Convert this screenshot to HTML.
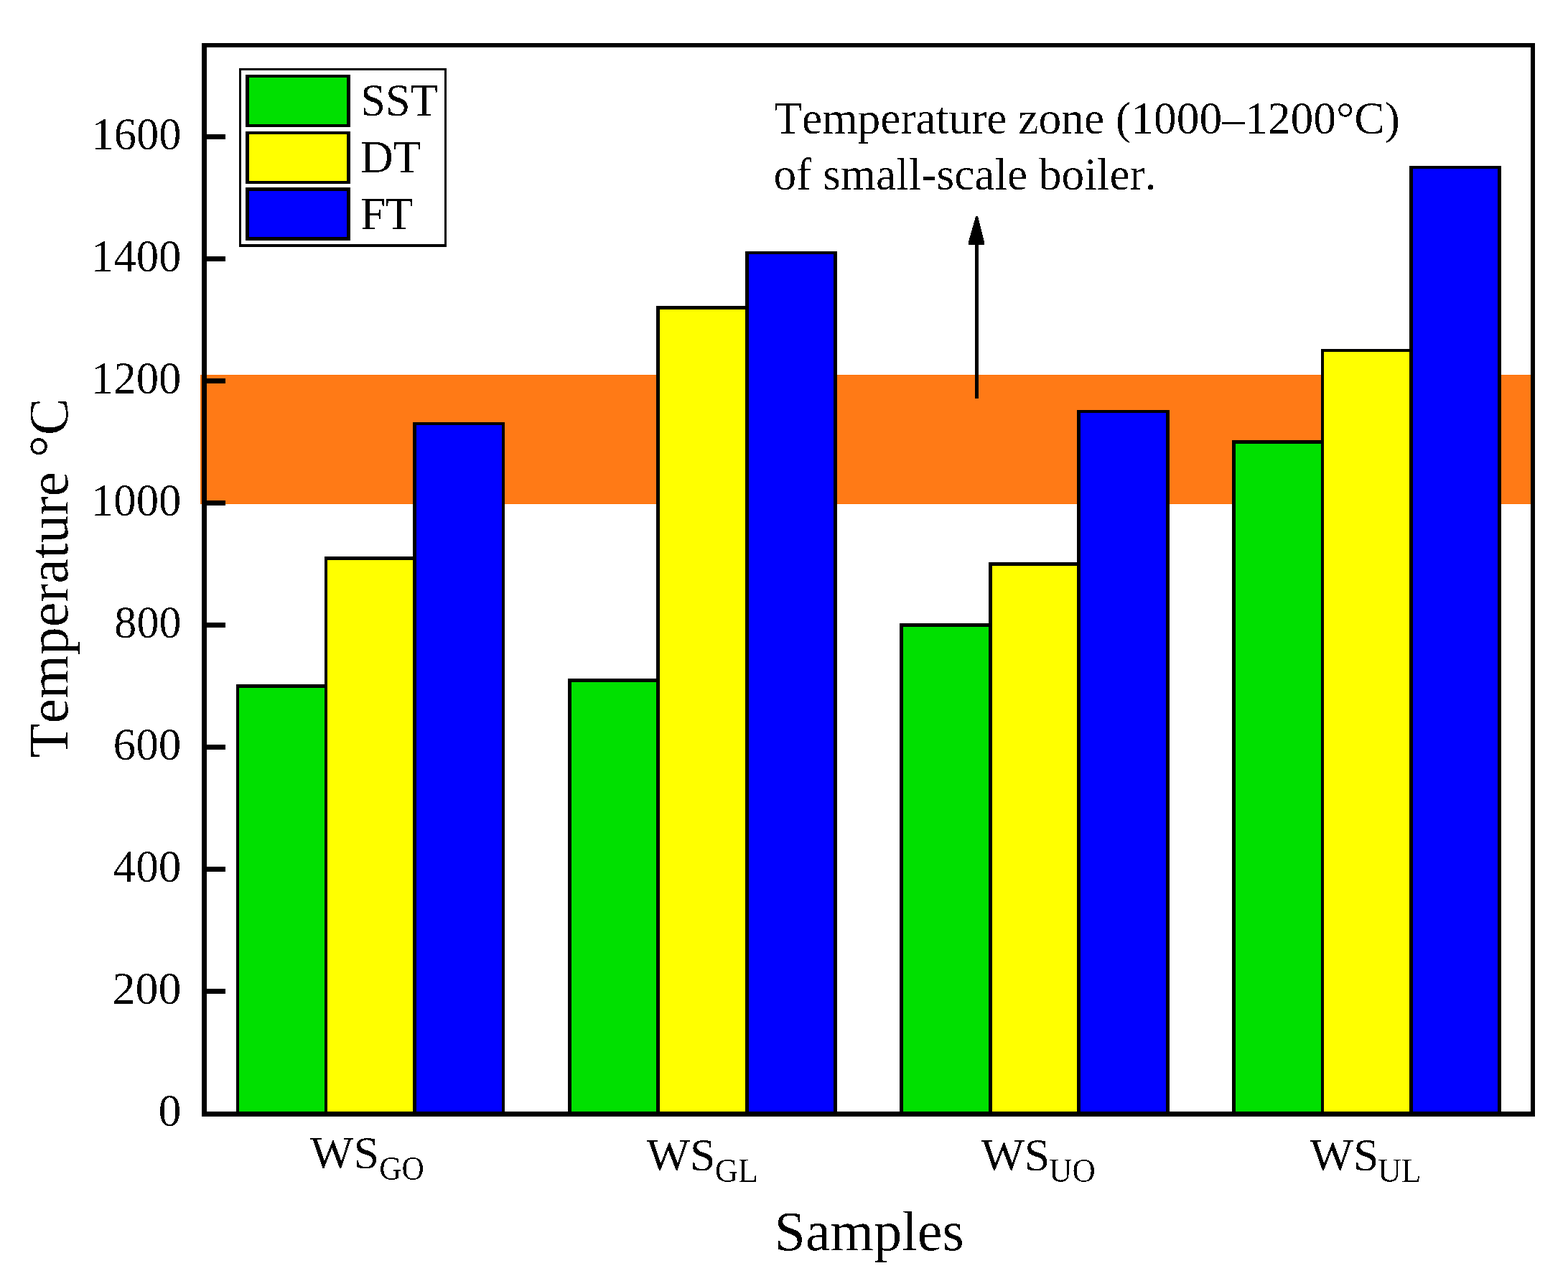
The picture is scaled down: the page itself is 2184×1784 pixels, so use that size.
<!DOCTYPE html>
<html><head><meta charset="utf-8"><style>
html,body{margin:0;padding:0;background:#fff;overflow:hidden;}
svg{display:block;}
text{font-kerning:none;font-feature-settings:"kern" 0;}
.t{font-family:"Liberation Serif","Times New Roman",serif;font-size:64px;fill:#000;}
.sub{font-size:46px;}
.tt{font-family:"Liberation Serif","Times New Roman",serif;font-size:78px;fill:#000;}
</style></head><body>
<svg width="2184" height="1784" viewBox="0 0 2184 1784" shape-rendering="crispEdges">
<defs><filter id="bin" filterUnits="userSpaceOnUse" x="0" y="0" width="2184" height="1784"><feComponentTransfer><feFuncA type="discrete" tableValues="0 0 0 1 1"/></feComponentTransfer></filter></defs>
<rect width="2184" height="1784" fill="#fff"/>
<rect x="279" y="522" width="1856" height="180" fill="#ff7a16"/>
<rect x="279" y="522" width="1856" height="1" fill="#ff7000"/>
<rect x="279" y="701" width="1856" height="1" fill="#ff7000"/>
<rect x="333" y="958" width="119" height="590" fill="#00e000"/>
<rect x="329" y="953" width="4" height="595" fill="#000"/>
<rect x="452" y="953" width="4" height="595" fill="#000"/>
<rect x="329" y="953" width="127" height="5" fill="#000"/>
<rect x="456" y="780" width="119" height="768" fill="#ffff00"/>
<rect x="452" y="775" width="4" height="773" fill="#000"/>
<rect x="575" y="775" width="5" height="773" fill="#000"/>
<rect x="452" y="775" width="128" height="5" fill="#000"/>
<rect x="580" y="592" width="119" height="956" fill="#0000ff"/>
<rect x="575" y="588" width="5" height="960" fill="#000"/>
<rect x="699" y="588" width="4" height="960" fill="#000"/>
<rect x="575" y="588" width="128" height="4" fill="#000"/>
<rect x="796" y="950" width="118" height="598" fill="#00e000"/>
<rect x="791" y="945" width="5" height="603" fill="#000"/>
<rect x="914" y="945" width="5" height="603" fill="#000"/>
<rect x="791" y="945" width="128" height="5" fill="#000"/>
<rect x="919" y="431" width="119" height="1117" fill="#ffff00"/>
<rect x="914" y="426" width="5" height="1122" fill="#000"/>
<rect x="1038" y="426" width="5" height="1122" fill="#000"/>
<rect x="914" y="426" width="129" height="5" fill="#000"/>
<rect x="1043" y="354" width="118" height="1194" fill="#0000ff"/>
<rect x="1038" y="350" width="5" height="1198" fill="#000"/>
<rect x="1161" y="350" width="5" height="1198" fill="#000"/>
<rect x="1038" y="350" width="128" height="4" fill="#000"/>
<rect x="1258" y="873" width="119" height="675" fill="#00e000"/>
<rect x="1253" y="868" width="5" height="680" fill="#000"/>
<rect x="1377" y="868" width="5" height="680" fill="#000"/>
<rect x="1253" y="868" width="129" height="5" fill="#000"/>
<rect x="1382" y="788" width="118" height="760" fill="#ffff00"/>
<rect x="1377" y="783" width="5" height="765" fill="#000"/>
<rect x="1500" y="783" width="5" height="765" fill="#000"/>
<rect x="1377" y="783" width="128" height="5" fill="#000"/>
<rect x="1505" y="575" width="119" height="973" fill="#0000ff"/>
<rect x="1500" y="571" width="5" height="977" fill="#000"/>
<rect x="1624" y="571" width="5" height="977" fill="#000"/>
<rect x="1500" y="571" width="129" height="4" fill="#000"/>
<rect x="1721" y="618" width="119" height="930" fill="#00e000"/>
<rect x="1716" y="613" width="5" height="935" fill="#000"/>
<rect x="1840" y="613" width="4" height="935" fill="#000"/>
<rect x="1716" y="613" width="128" height="5" fill="#000"/>
<rect x="1844" y="490" width="119" height="1058" fill="#ffff00"/>
<rect x="1840" y="486" width="4" height="1062" fill="#000"/>
<rect x="1963" y="486" width="5" height="1062" fill="#000"/>
<rect x="1840" y="486" width="128" height="4" fill="#000"/>
<rect x="1968" y="235" width="118" height="1313" fill="#0000ff"/>
<rect x="1963" y="231" width="5" height="1317" fill="#000"/>
<rect x="2086" y="231" width="5" height="1317" fill="#000"/>
<rect x="1963" y="231" width="128" height="4" fill="#000"/>
<rect x="1358" y="340" width="5" height="215" fill="#000"/>
<path d="M1349,341 L1371,341 L1371,336.5 L1362,301 L1359.2,301 L1349,336.5 Z" fill="#000"/>
<rect x="281" y="60" width="1857" height="6" fill="#000"/>
<rect x="281" y="1548" width="1857" height="7" fill="#000"/>
<rect x="281" y="60" width="7" height="1495" fill="#000"/>
<rect x="2132" y="60" width="6" height="1495" fill="#000"/>
<rect x="288" y="1377" width="26" height="7" fill="#000"/>
<rect x="288" y="1207" width="26" height="7" fill="#000"/>
<rect x="288" y="1037" width="26" height="7" fill="#000"/>
<rect x="288" y="867" width="26" height="7" fill="#000"/>
<rect x="288" y="697" width="26" height="7" fill="#000"/>
<rect x="288" y="527" width="26" height="7" fill="#000"/>
<rect x="288" y="357" width="26" height="7" fill="#000"/>
<rect x="288" y="187" width="26" height="7" fill="#000"/>
<rect x="333" y="95" width="289" height="249" fill="#000"/>
<rect x="336" y="98" width="283" height="242" fill="#fff"/>
<rect x="342" y="104" width="146" height="73" fill="#000"/>
<rect x="347" y="108" width="136" height="65" fill="#00e000"/>
<rect x="342" y="183" width="146" height="73" fill="#000"/>
<rect x="347" y="187" width="136" height="65" fill="#ffff00"/>
<rect x="342" y="261" width="146" height="74" fill="#000"/>
<rect x="347" y="266" width="136" height="64" fill="#0000ff"/>
<g filter="url(#bin)">
<text x="252.54" y="1568.00" text-anchor="end" class="t" textLength="32.00" lengthAdjust="spacingAndGlyphs">0</text>
<text x="252.54" y="1398.00" text-anchor="end" class="t" textLength="96.00" lengthAdjust="spacingAndGlyphs">200</text>
<text x="252.52" y="1228.00" text-anchor="end" class="t" textLength="95.04" lengthAdjust="spacingAndGlyphs">400</text>
<text x="252.52" y="1058.00" text-anchor="end" class="t" textLength="95.04" lengthAdjust="spacingAndGlyphs">600</text>
<text x="252.47" y="888.00" text-anchor="end" class="t" textLength="93.12" lengthAdjust="spacingAndGlyphs">800</text>
<text x="252.50" y="718.00" text-anchor="end" class="t" textLength="125.70" lengthAdjust="spacingAndGlyphs">1000</text>
<text x="252.50" y="548.00" text-anchor="end" class="t" textLength="125.70" lengthAdjust="spacingAndGlyphs">1200</text>
<text x="252.50" y="378.00" text-anchor="end" class="t" textLength="125.70" lengthAdjust="spacingAndGlyphs">1400</text>
<text x="252.48" y="208.00" text-anchor="end" class="t" textLength="125.06" lengthAdjust="spacingAndGlyphs">1600</text>
<text x="432" y="1626.5" class="t">WS</text>
<text x="900.5" y="1629.5" class="t">WS</text>
<text x="1366.4" y="1629.5" class="t">WS</text>
<text x="1824.6" y="1629.5" class="t">WS</text>
<text x="528.2" y="1643.45" class="t sub" textLength="62.65" lengthAdjust="spacingAndGlyphs">GO</text>
<text x="995.76" y="1645.8" class="t sub" textLength="59.97" lengthAdjust="spacingAndGlyphs">GL</text>
<text x="1461.06" y="1646.2" class="t sub" textLength="64.78" lengthAdjust="spacingAndGlyphs">UO</text>
<text x="1919.05" y="1645.8" class="t sub" textLength="60.58" lengthAdjust="spacingAndGlyphs">UL</text>
<text x="1078.5" y="1741" class="tt">Samples</text>
<text transform="translate(93.9,1055.3) rotate(-90)" class="tt">Temperature °C</text>
<text x="1078.2" y="186" class="t" textLength="871.6" lengthAdjust="spacingAndGlyphs">Temperature zone (1000–1200°C)</text>
<text x="1077.6" y="264" class="t" textLength="532.9" lengthAdjust="spacingAndGlyphs">of small-scale boiler.</text>
<text x="502.3" y="161" class="t" textLength="107.41" lengthAdjust="spacingAndGlyphs">SST</text>
<text x="502.3" y="239.9" class="t" textLength="83.95" lengthAdjust="spacingAndGlyphs">DT</text>
<text x="502.3" y="318.7" class="t" textLength="72.97" lengthAdjust="spacingAndGlyphs">FT</text>
</g>
</svg></body></html>
